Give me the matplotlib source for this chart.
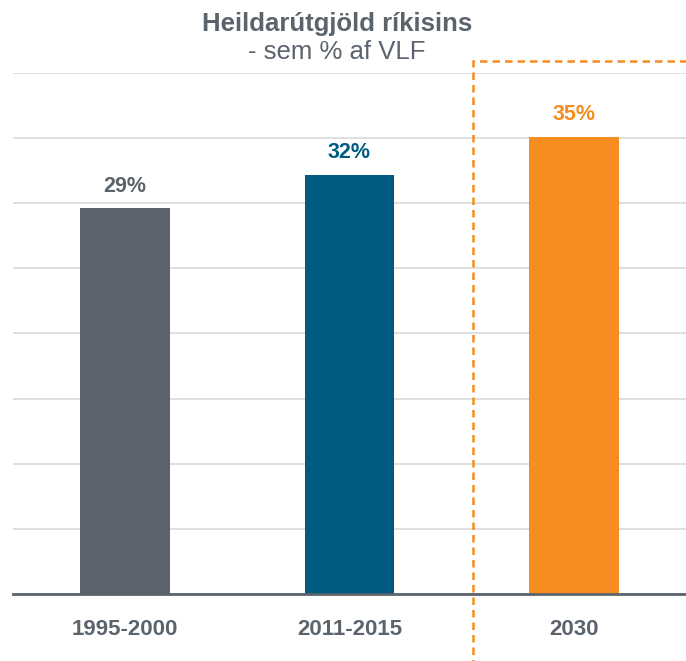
import matplotlib
matplotlib.use('Agg')
import matplotlib.pyplot as plt
from matplotlib.patches import Rectangle

# --- Data ---
categories = ['1995-2000', '2011-2015', '2030']
values = [29.6, 32.2, 35.1]
value_labels = ['29%', '32%', '35%']
bar_colors = ['#5b636d', '#005b82', '#f68d20']
grid_ticks = [0, 5, 10, 15, 20, 25, 30, 35, 40]

plt.rcParams['font.family'] = ['Liberation Sans', 'DejaVu Sans']
TEXT_GRAY = '#5b636d'

fig = plt.figure(figsize=(6.86, 6.61), dpi=100)
ax = fig.add_axes([0.019, 0.1014, 0.981, 0.7882])

x = range(len(categories))
ax.bar(x, values, width=0.4, color=bar_colors, zorder=3)

for xi, v, lab, c in zip(x, values, value_labels, bar_colors):
    ax.text(xi, v + 0.9, lab, ha='center', va='bottom',
            fontsize=15.5, fontweight='bold', color=c)

ax.set_xlim(-0.5, 2.5)
ax.set_ylim(0, 40)
ax.set_yticks(grid_ticks)
ax.yaxis.grid(True, color='#d9d9d9', linewidth=1.2, zorder=0)
ax.tick_params(axis='y', left=False, labelleft=False)
ax.set_xticks(list(x))
ax.set_xticklabels(categories, fontsize=16, fontweight='bold', color=TEXT_GRAY)
ax.tick_params(axis='x', length=0, pad=18)

for side in ['top', 'right', 'left']:
    ax.spines[side].set_visible(False)
ax.spines['bottom'].set_color(TEXT_GRAY)
ax.spines['bottom'].set_linewidth(2)
ax.spines['bottom'].set_zorder(4)

fig.text(0.491, 0.964, 'Heildarútgjöld ríkisins', ha='center', va='center',
         fontsize=18.5, fontweight='bold', color=TEXT_GRAY)
fig.text(0.491, 0.921, '- sem % af VLF', ha='center', va='center',
         fontsize=18.5, color=TEXT_GRAY)

# dashed frame around the 2030 projection
fig.patches.append(Rectangle((0.6895, -0.05), 0.4, 0.9577, transform=fig.transFigure,
                             fill=False, edgecolor='#f68d20', linewidth=1.8,
                             linestyle=(0, (3, 2)), zorder=5))

fig.savefig('out.png', dpi=100)
